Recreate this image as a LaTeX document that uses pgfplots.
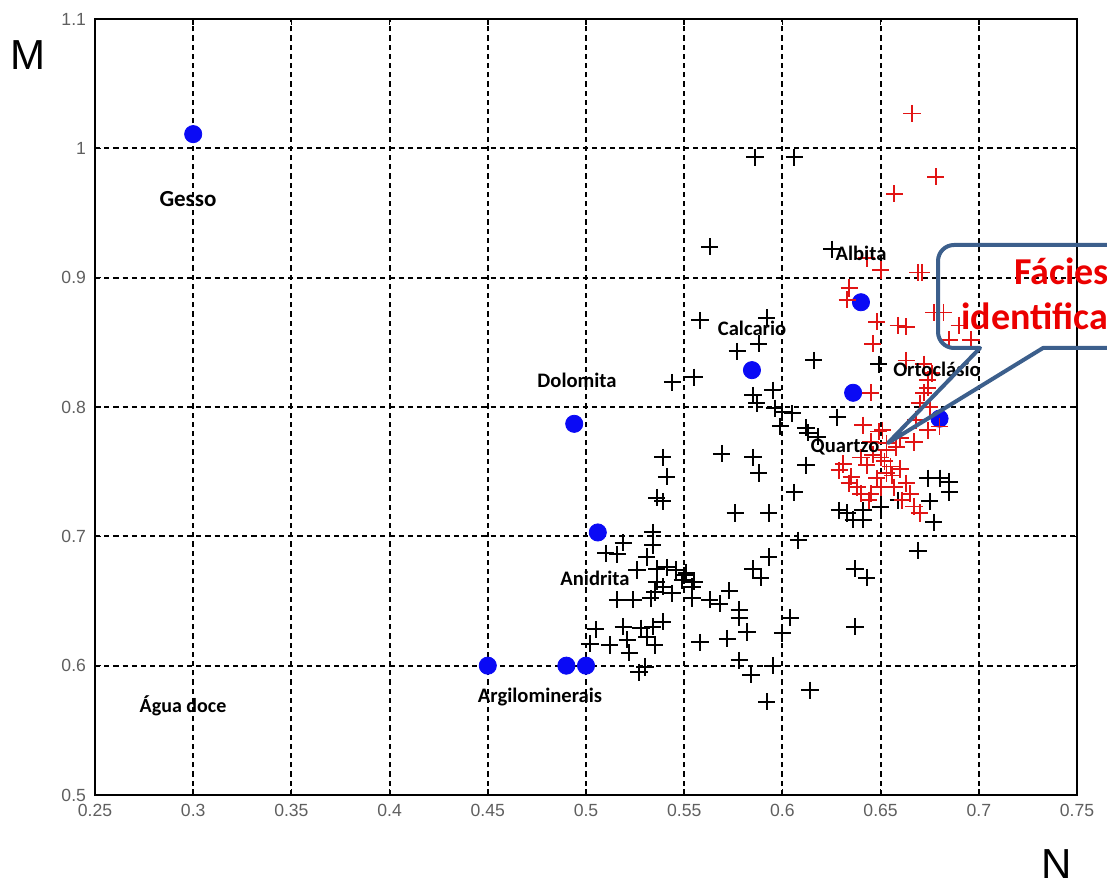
\documentclass[border=0pt]{standalone}
\usepackage{pgfplots}
\pgfplotsset{compat=1.18}
\usepackage{fontspec}
\setmainfont{Liberation Sans}
\newfontfamily\carlito{Carlito}
\definecolor{tickgray}{RGB}{95,95,95}
\definecolor{ptred}{RGB}{225,20,20}
\definecolor{ptblue}{RGB}{10,10,245}
\definecolor{callblue}{RGB}{60,95,140}
\definecolor{callred}{RGB}{235,0,0}

\pgfplotstableread{
x y
0.586 0.993
0.606 0.993
0.563 0.924
0.625 0.922
0.558 0.867
0.592 0.869
0.588 0.849
0.577 0.843
0.616 0.836
0.544 0.819
0.555 0.823
0.649 0.833
0.628 0.792
0.585 0.809
0.595 0.813
0.587 0.803
0.596 0.799
0.600 0.796
0.605 0.795
0.599 0.785
0.612 0.784
0.613 0.780
0.618 0.777
0.569 0.764
0.585 0.761
0.588 0.749
0.612 0.755
0.606 0.734
0.576 0.718
0.593 0.718
0.608 0.697
0.593 0.684
0.585 0.675
0.589 0.668
0.604 0.637
0.573 0.658
0.578 0.643
0.578 0.637
0.568 0.648
0.563 0.651
0.555 0.665
0.550 0.670
0.539 0.761
0.541 0.746
0.536 0.730
0.539 0.727
0.600 0.625
0.558 0.618
0.572 0.621
0.578 0.604
0.584 0.593
0.595 0.600
0.592 0.572
0.614 0.581
0.582 0.626
0.534 0.703
0.534 0.693
0.519 0.695
0.510 0.687
0.516 0.686
0.531 0.684
0.526 0.674
0.536 0.675
0.541 0.676
0.546 0.674
0.551 0.672
0.536 0.665
0.539 0.661
0.549 0.666
0.554 0.661
0.535 0.657
0.544 0.656
0.516 0.651
0.524 0.651
0.533 0.652
0.554 0.652
0.505 0.628
0.519 0.630
0.528 0.629
0.534 0.630
0.539 0.634
0.531 0.622
0.521 0.620
0.535 0.616
0.502 0.617
0.512 0.616
0.522 0.610
0.530 0.599
0.527 0.595
0.674 0.745
0.680 0.745
0.685 0.742
0.685 0.734
0.675 0.727
0.677 0.711
0.629 0.720
0.633 0.718
0.641 0.720
0.641 0.713
0.650 0.723
0.659 0.728
0.669 0.689
0.637 0.675
0.643 0.668
0.637 0.630
0.636 0.713
}\blackpts

\pgfplotstableread{
x y
0.666 1.027
0.678 0.978
0.657 0.965
0.669 0.904
0.671 0.904
0.650 0.906
0.643 0.915
0.634 0.892
0.633 0.883
0.648 0.866
0.659 0.863
0.663 0.862
0.677 0.873
0.682 0.873
0.646 0.849
0.690 0.863
0.696 0.852
0.685 0.852
0.663 0.836
0.674 0.815
0.672 0.811
0.674 0.821
0.670 0.803
0.645 0.811
0.680 0.785
0.674 0.782
0.667 0.773
0.641 0.786
0.651 0.782
0.645 0.773
0.653 0.767
0.640 0.761
0.629 0.751
0.635 0.746
0.653 0.749
0.656 0.747
0.638 0.738
0.645 0.733
0.650 0.738
0.663 0.741
0.667 0.723
0.665 0.733
0.658 0.769
0.649 0.781
0.655 0.754
0.634 0.741
0.640 0.733
0.650 0.761
0.652 0.758
0.660 0.752
0.643 0.755
0.648 0.745
0.657 0.738
0.661 0.728
0.670 0.718
0.644 0.728
0.653 0.772
0.660 0.776
0.668 0.790
0.675 0.800
0.676 0.826
0.672 0.833
0.631 0.756
0.646 0.763
}\redpts

\pgfplotstableread{
x y
0.300 1.011
0.494 0.787
0.506 0.703
0.450 0.600
0.490 0.600
0.500 0.600
0.5845 0.8285
0.640 0.881
0.636 0.811
0.680 0.791
}\bluepts

\begin{document}
\begin{tikzpicture}
\path[use as bounding box] (-47.5pt,-44pt) rectangle (506pt,397.5pt);
\begin{axis}[
  name=ax, at={(0,0)}, anchor=south west,
  scale only axis, width=491pt, height=388pt,
  xmin=0.25, xmax=0.75, ymin=0.5, ymax=1.1,
  xtick={0.25,0.3,0.35,0.4,0.45,0.5,0.55,0.6,0.65,0.7,0.75},
  ytick={0.5,0.6,0.7,0.8,0.9,1,1.1},
  /pgf/number format/assume math mode=true,
  ticklabel style={font=\fontsize{8.8}{10}\selectfont, text=tickgray},
  xticklabel style={yshift=-1pt},
  yticklabel style={xshift=-1pt},
  grid=major,
  major grid style={black, line width=1pt, dash pattern=on 2.6pt off 2pt},
  axis line style={black, line width=1pt},
  tick style={black, line width=0.8pt},
  tick align=inside, major tick length=3pt,
  clip=false,
]
\addplot[only marks, mark=+, mark size=4.3pt, black, line width=1pt] table[x=x,y=y] {\blackpts};
\addplot[only marks, mark=*, mark size=4.3pt, draw=ptblue, fill=ptblue] table[x=x,y=y] {\bluepts};
\addplot[only marks, mark=+, mark size=4.3pt, ptred, line width=0.9pt] table[x=x,y=y] {\redpts};
\end{axis}
\begin{scope}[shift={(-47.5pt,397.5pt)}, x=0.5pt, y=-0.5pt]
  \begin{scope}[font=\carlito\bfseries\fontsize{10.3}{12}\selectfont, text=black]
    \node at (188,199) {\fontsize{11.5}{13}\selectfont Gesso};
    \node at (577,380) {Dolomita};
    \node at (752,328) {Calcario};
    \node at (861,253) {Albita};
    \node at (937,369) {Ortoclásio};
    \node at (845,447) {Quartzo};
    \node at (595,578) {Anidrita};
    \node at (540,697) {Argilominerais};
    \node at (183,706) {\fontsize{10}{12}\selectfont Água doce};
  \end{scope}
  \node[font=\fontsize{21}{24}\selectfont] at (28,55) {M};
  \node[font=\fontsize{21}{24}\selectfont] at (1057,864) {N};
  \draw[callblue, line width=2pt, line join=round]
    (980,348) -- (888,443) -- (1043,348)
    [rounded corners=8pt] -- (1200,348) -- (1200,245) -- (938,245) -- (938,348)
    [sharp corners] -- cycle;
  \node[anchor=base west, inner sep=0pt, text=callred, font=\carlito\bfseries\fontsize{19}{22}\selectfont] at (1014,285) {Fácies};
  \node[anchor=base west, inner sep=0pt, text=callred, font=\carlito\bfseries\fontsize{19}{22}\selectfont] at (961,330) {identificadas};
\end{scope}
\end{tikzpicture}
\end{document}
